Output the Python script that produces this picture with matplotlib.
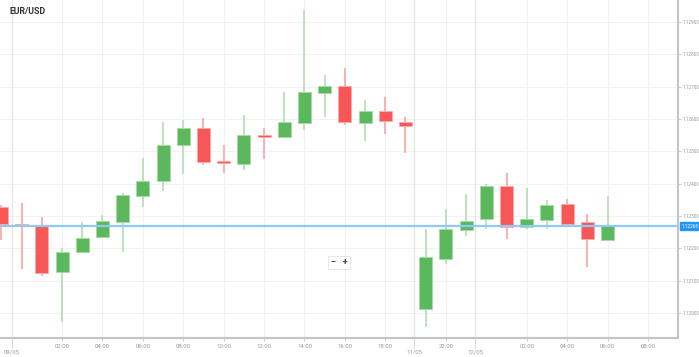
import numpy as np
import matplotlib
matplotlib.use("Agg")
import matplotlib.pyplot as plt
import matplotlib.transforms as mtransforms

plt.rcParams['font.family'] = ['Roboto', 'DejaVu Sans']

# EUR/USD hourly candles
opens = [1.12329, 1.12277, 1.12270, 1.12127, 1.12188, 1.12235, 1.12281, 1.12363,
         1.12408, 1.12521, 1.12571, 1.12469, 1.12460, 1.12551, 1.12545, 1.12589,
         1.12680, 1.12702, 1.12589, 1.12624, 1.12590,
         1.12012, 1.12167, 1.12257, 1.12292, 1.12393, 1.12266, 1.12288, 1.12336,
         1.12282, 1.12226]
highs = [1.12334, 1.12339, 1.12298, 1.12200, 1.12282, 1.12303, 1.12372, 1.12479,
         1.12590, 1.12597, 1.12604, 1.12520, 1.12612, 1.12573, 1.12684, 1.12937,
         1.12736, 1.12757, 1.12659, 1.12669, 1.12605,
         1.12260, 1.12322, 1.12368, 1.12399, 1.12434, 1.12386, 1.12350, 1.12352,
         1.12305, 1.12363]
lows = [1.12226, 1.12136, 1.12114, 1.11971, 1.12187, 1.12234, 1.12190, 1.12329,
        1.12378, 1.12429, 1.12458, 1.12432, 1.12442, 1.12476, 1.12540, 1.12566,
        1.12607, 1.12581, 1.12533, 1.12554, 1.12494,
        1.11958, 1.12151, 1.12238, 1.12259, 1.12229, 1.12259, 1.12259, 1.12269,
        1.12143, 1.12226]
closes = [1.12277, 1.12272, 1.12125, 1.12188, 1.12233, 1.12285, 1.12365, 1.12408,
          1.12520, 1.12571, 1.12468, 1.12463, 1.12551, 1.12545, 1.12590, 1.12683,
          1.12702, 1.12592, 1.12626, 1.12595, 1.12578,
          1.12173, 1.12259, 1.12285, 1.12393, 1.12266, 1.12290, 1.12334, 1.12277,
          1.12228, 1.12268]
last_price = 1.12268

time_pos = [3, 5, 7, 9, 11, 13, 15, 17, 19, 22, 26, 28, 30, 32]
time_labels = ["02:00", "04:00", "06:00", "08:00", "10:00", "12:00", "14:00",
               "16:00", "18:00", "22:00", "02:00", "04:00", "06:00", "08:00"]
date_pos = [0.52, 20.42, 23.44]
date_labels = ["09/05", "11/05", "12/05"]
price_ticks = [1.120, 1.121, 1.122, 1.123, 1.124, 1.125, 1.126, 1.127, 1.128, 1.129]

GREEN = "#5cb85c"
RED = "#f85757"

fig = plt.figure(figsize=(6.99, 3.57), dpi=100)
fig.patch.set_facecolor("white")
ax = fig.add_axes([0, 19 / 357, 678 / 699, 338 / 357])

o = np.array(opens); h = np.array(highs); l = np.array(lows); c = np.array(closes)
x = np.arange(len(o))
up = c >= o

# grid
for p in price_ticks:
    ax.axhline(p, color="#f2f2f2", lw=0.8, zorder=0)
for t in time_pos:
    ax.axvline(t, color="#f2f2f2", lw=0.8, zorder=0)
for d in date_pos:
    ax.axvline(d, color="#e6e6e6", lw=0.9, zorder=0)

# wicks
ax.vlines(x[up], l[up], h[up], color="#b9dfb9", lw=1.3, zorder=2)
ax.vlines(x[~up], l[~up], h[~up], color="#f9abab", lw=1.3, zorder=2)

# bodies
body = np.where(np.abs(c - o) < 0.00004, 0.00004 * np.sign(c - o + 1e-12), c - o)
ax.bar(x[up], body[up], bottom=o[up], width=0.64, color=GREEN,
       edgecolor="#a6dba6", linewidth=0.7, zorder=3)
ax.bar(x[~up], body[~up], bottom=o[~up], width=0.64, color=RED,
       edgecolor="#fbaaaa", linewidth=0.7, zorder=3)

# current price line + label
ax.axhline(last_price, color="#8fcaf3", lw=1.6, zorder=4)
trans = mtransforms.blended_transform_factory(ax.transAxes, ax.transData)
ax.text(1.005, last_price, "%.5f" % last_price, transform=trans, fontsize=3.4,
        color="white", va="center", ha="left", zorder=6, clip_on=False,
        bbox=dict(boxstyle="square,pad=0.3", fc="#2196f3", ec="#2196f3"))

ax.set_xlim(-0.074, 33.49)
ax.set_ylim(1.11923, 1.12968)

for s in ["left", "top"]:
    ax.spines[s].set_visible(False)
for s in ["right", "bottom"]:
    ax.spines[s].set_color("#c4c4c4")
    ax.spines[s].set_linewidth(1.5)

ax.yaxis.tick_right()
ax.set_yticks(price_ticks)
ax.set_yticklabels(["%.5f" % p for p in price_ticks])
ax.tick_params(axis="y", length=2, width=0.6, color="#c4c4c4", pad=1,
               labelsize=3.4, labelcolor="#999999")

ax.set_xticks(time_pos)
ax.set_xticklabels(time_labels)
ax.tick_params(axis="x", which="major", length=2.5, width=0.6, color="#c4c4c4",
               pad=1.5, labelsize=4.3, labelcolor="#999999")
ax.set_xticks(date_pos, minor=True)
ax.set_xticklabels(date_labels, minor=True)
ax.tick_params(axis="x", which="minor", length=7, width=0.6, color="#d0d0d0",
               pad=1.5, labelsize=4.3, labelcolor="#999999")
for tl in ax.xaxis.get_minorticklines():
    tl.set_linestyle((0, (1, 1)))

# title
fig.text(10 / 699, 1 - 11 / 357, "EUR/USD", fontsize=6.3, fontweight="bold",
         color="#333333", va="center", ha="left")

# zoom control
ax.text(0.5, 0.224, "\u2212   +", transform=ax.transAxes, fontsize=6.5,
        fontweight="bold", color="#444444", ha="center", va="center", zorder=6,
        bbox=dict(boxstyle="square,pad=0.25", fc="white", ec="#e2e2e2", lw=0.6))

fig.savefig("out.png", dpi=100)
